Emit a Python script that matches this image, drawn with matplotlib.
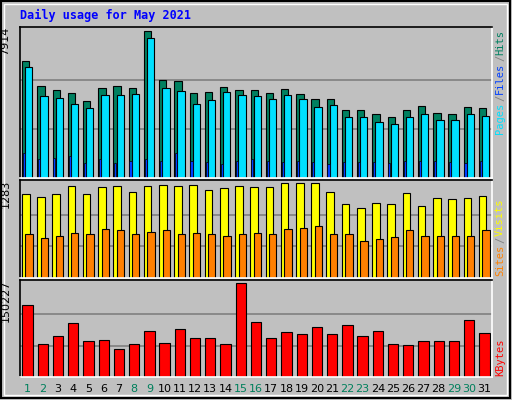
import numpy as np
import matplotlib.pyplot as plt
from matplotlib.patches import Rectangle

days = list(range(1, 32))
weekend = [1, 2, 8, 9, 15, 16, 22, 23, 29, 30]

hits = [6322, 4975, 4760, 4598, 4167, 4867, 4975, 4867, 7914, 5298, 5244, 4598, 4652, 4921,
        4760, 4760, 4598, 4814, 4544, 4275, 4275, 3683, 3683, 3468, 3306, 3683, 3898, 3522,
        3468, 3845, 3791]
files = [5998, 4436, 4329, 4006, 3791, 4490, 4490, 4544, 7537, 4867, 4706, 4006, 4221, 4652,
         4490, 4436, 4275, 4490, 4275, 3845, 3952, 3306, 3306, 3037, 2929, 3306, 3468, 3145,
         3145, 3468, 3360]
pages = [1350, 1050, 1100, 1200, 800, 1050, 800, 900, 1050, 900, 1350, 900, 850, 750, 900,
         1000, 900, 850, 900, 850, 750, 850, 850, 850, 800, 900, 900, 900, 850, 800, 900]
visits = [1126, 1098, 1126, 1240, 1126, 1226, 1240, 1155, 1240, 1254, 1240, 1254, 1183,
          1212, 1240, 1226, 1226, 1283, 1283, 1283, 1155, 998, 941, 1012, 998, 1141, 970,
          1084, 1069, 1084, 1112]
sites = [598, 541, 570, 613, 598, 655, 641, 598, 627, 641, 598, 613, 598, 570, 598, 613,
         598, 655, 670, 698, 598, 598, 499, 527, 556, 641, 570, 570, 570, 570, 641]
kbytes = [115560, 52000, 64800, 85400, 56700, 58300, 44000, 52000, 74100, 55000, 75800,
          63000, 63000, 52000, 150227, 88300, 63000, 72500, 67800, 79000, 67800, 83600,
          66200, 74100, 52000, 50500, 56700, 56700, 56700, 91500, 69500]

W, H = 512, 400
fig = plt.figure(figsize=(W / 100, H / 100), dpi=100)
fig.patch.set_facecolor('#C0C0C0')
bg = fig.add_axes([0, 0, 1, 1])
bg.set_xlim(0, W); bg.set_ylim(H, 0); bg.axis('off')
bg.add_patch(Rectangle((1, 1), W - 3, H - 3, fill=False, ec='black', lw=1.5))
bg.add_patch(Rectangle((4, 4), W - 9, H - 9, fill=False, ec='white', lw=1))
bg.text(20, 15, 'Daily usage for May 2021', color='#0000FF', fontsize=8.5,
        family='DejaVu Sans Mono', fontweight='bold', va='center')

x = np.array(days)


def panel(top, bot, vmax):
    ax = fig.add_axes([20 / W, 1 - bot / H, 472 / W, (bot - top) / H])
    ax.set_facecolor('#C0C0C0')
    ax.set_xlim(0.5, 31.5)
    ax.set_ylim(0, vmax * 1.03)
    for f in (1 / 3, 2 / 3):
        ax.axhline(vmax * f, color='#808080', lw=1.2, zorder=0)
    ax.set_xticks([]); ax.set_yticks([])
    for s in ax.spines.values():
        s.set_color('black'); s.set_linewidth(1.2)
    ax.spines['bottom'].set_color('white'); ax.spines['right'].set_color('white')
    ax.text(-0.02, 1.0, str(vmax), transform=ax.transAxes, rotation=90,
            ha='right', va='top', fontsize=8)
    return ax


ax1 = panel(27, 178, max(hits))
ax1.bar(x - 0.12, hits, width=0.48, color='#008060', ec='black', lw=0.8)
ax1.bar(x + 0.08, files, width=0.48, color='#00E0FF', ec='black', lw=0.8)
ax1.bar(x - 0.24, pages, width=0.14, color='#0040FF', ec='black', lw=0.5)

ax2 = panel(180, 278, max(visits))
ax2.bar(x - 0.12, visits, width=0.5, color='#FFFF00', ec='black', lw=0.8)
ax2.bar(x + 0.1, sites, width=0.48, color='#FF8000', ec='black', lw=0.8)

ax3 = panel(280, 377, max(kbytes))
ax3.bar(x, kbytes, width=0.68, color='#FF0000', ec='black', lw=0.8)

for d in days:
    xp = 20 + (d - 0.5) / 31 * 472
    bg.text(xp, 389, str(d), ha='center', va='center', fontsize=8,
            color='#00805C' if d in weekend else 'black')


def side(y0, parts):
    y = y0
    for t, c in parts:
        bg.text(500, y, t, rotation=90, ha='center', va='bottom', fontsize=7.5,
                color=c, family='DejaVu Sans Mono')
        y -= len(t) * 6.6


side(134, [('Pages', '#00E0FF'), ('/', '#808080'), ('Files', '#0040FF'),
           ('/', '#808080'), ('Hits', '#008060')])
side(276, [('Sites', '#FF8000'), ('/', '#808080'), ('Visits', '#FFFF00')])
side(376, [('KBytes', '#FF0000')])

fig.savefig('out.png', dpi=100, facecolor=fig.get_facecolor())
